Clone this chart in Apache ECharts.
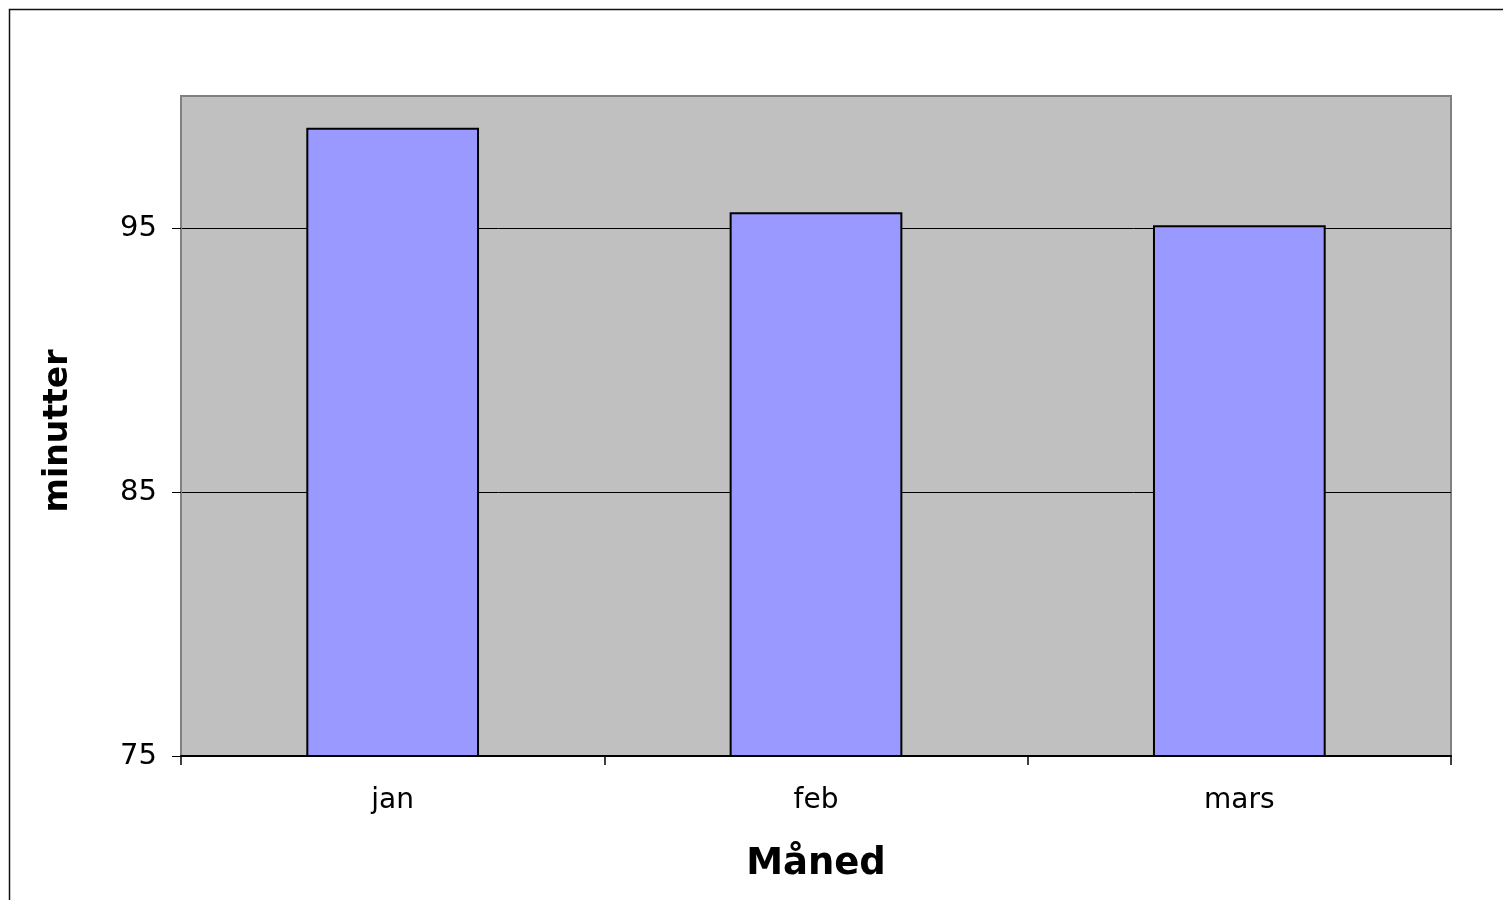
<!DOCTYPE html>
<html>
<head>
<meta charset="utf-8">
<script src="https://cdn.jsdelivr.net/npm/echarts@6/dist/echarts.min.js"></script>
<style>
  html, body { margin: 0; padding: 0; background: #ffffff; }
  #chart { width: 1503px; height: 900px; }
</style>
</head>
<body>
<div id="chart"></div>
<script>
// Monthly average, minutes
var months = ['jan', 'feb', 'mars'];
var minutes = [98.8, 95.6, 95.1];
var yTicks = [75, 85, 95];

var chart = echarts.init(document.getElementById('chart'), null, { renderer: 'canvas' });

chart.setOption({
  backgroundColor: '#ffffff',
  animation: false,
  textStyle: { fontFamily: 'DejaVu Sans, sans-serif' },
  grid: {
    left: 181, top: 96, right: 52, bottom: 144,
    show: true,
    backgroundColor: '#C0C0C0',
    borderColor: '#808080',
    borderWidth: 2
  },
  graphic: [{
    type: 'rect',
    silent: true,
    shape: { x: 9.5, y: 9.5, width: 1600, height: 1000 },
    style: { fill: 'none', stroke: '#111111', lineWidth: 1.5 },
    z: -1
  }],
  xAxis: {
    type: 'category',
    data: months,
    name: 'Måned',
    nameLocation: 'middle',
    nameGap: 90,
    nameTextStyle: { fontSize: 37, fontWeight: 'bold', color: '#000', fontFamily: 'DejaVu Sans, sans-serif' },
    axisLine: { show: true, lineStyle: { color: '#000', width: 2 } },
    axisTick: { show: true, length: 9, lineStyle: { color: '#000', width: 1.5 } },
    axisLabel: { fontSize: 28, color: '#000', margin: 31, fontFamily: 'DejaVu Sans, sans-serif' },
    splitLine: { show: false }
  },
  yAxis: {
    type: 'value',
    min: 75,
    max: 100,
    interval: 10,
    name: 'minutter',
    nameLocation: 'middle',
    nameGap: 106,
    nameTextStyle: { fontSize: 33, fontWeight: 'bold', color: '#000', fontFamily: 'DejaVu Sans, sans-serif', padding: [0, 10, 0, 0] },
    axisLine: { show: true, lineStyle: { color: '#808080', width: 2 } },
    axisTick: { show: true, length: 9, customValues: yTicks, lineStyle: { color: '#000', width: 1 } },
    axisLabel: { fontSize: 29, color: '#000', margin: 24, customValues: yTicks, fontFamily: 'DejaVu Sans, sans-serif' },
    splitLine: { show: true, lineStyle: { color: '#000', width: 1 } }
  },
  series: [{
    type: 'bar',
    data: minutes,
    barWidth: '40.8%',
    itemStyle: { color: '#9999FF', borderColor: '#000', borderWidth: 2 }
  }]
});
</script>
</body>
</html>
